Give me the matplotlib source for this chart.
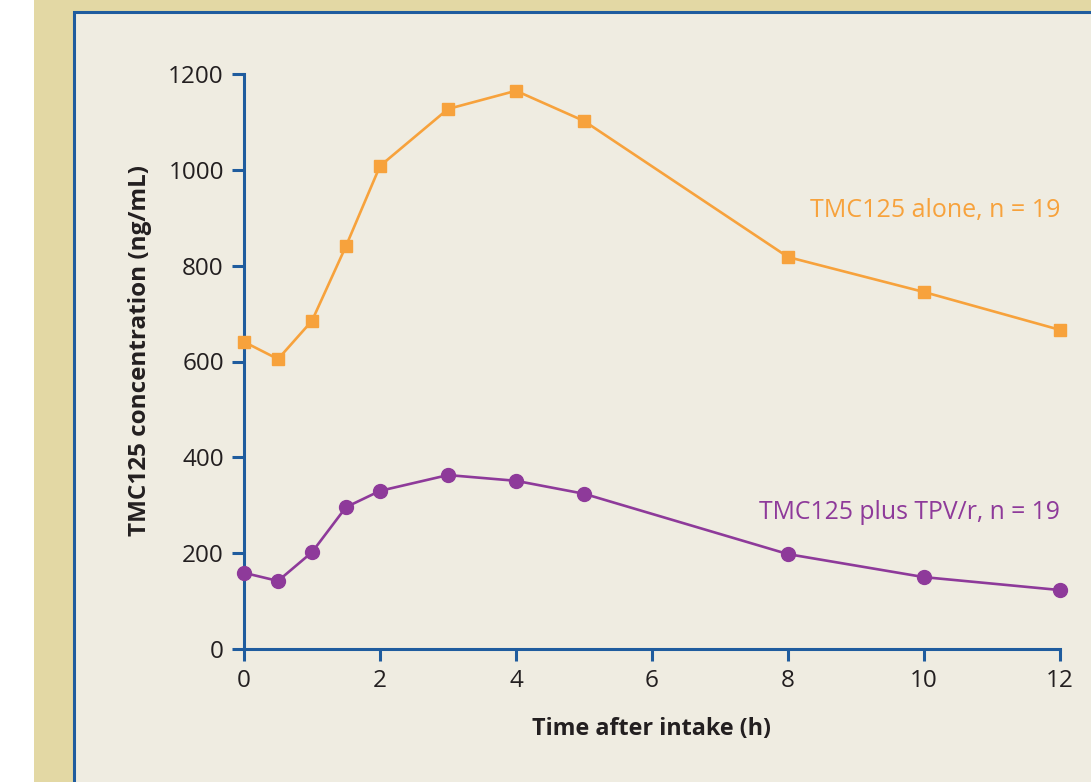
import matplotlib
matplotlib.use("Agg")
import matplotlib.pyplot as plt
from matplotlib.patches import Rectangle

# Data
hours = [0, 0.5, 1, 1.5, 2, 3, 4, 5, 8, 10, 12]
tmc_alone = [641, 605, 685, 841, 1008, 1127, 1165, 1102, 818, 745, 666]
tmc_plus_tpv = [159, 142, 202, 296, 330, 363, 351, 324, 198, 150, 123]

x_ticks = [0, 2, 4, 6, 8, 10, 12]
y_ticks = [0, 200, 400, 600, 800, 1000, 1200]

blue = "#1f5c9e"
orange = "#f7a23c"
purple = "#8e3a9a"
text_col = "#231f20"

plt.rcParams['font.family'] = ['Open Sans', 'DejaVu Sans']

fig = plt.figure(figsize=(10.91, 7.82), dpi=100)
fig.patch.set_facecolor("white")

# tan side strip and cream panel with blue frame (kept behind the axes)
fig.patches.append(Rectangle((34 / 1091, 0), 1, 1, transform=fig.transFigure,
                             facecolor="#e3d8a4", edgecolor="none", zorder=-2))
fig.patches.append(Rectangle((73.5 / 1091, -0.05), 1, 1 - 11.5 / 782 + 0.05,
                             transform=fig.transFigure, facecolor="#efece1",
                             edgecolor=blue, linewidth=2.2, zorder=-1))

ax = fig.add_axes([244 / 1091, 1 - 649 / 782, 816 / 1091, 575 / 782])
ax.set_facecolor("none")

ax.plot(hours, tmc_alone, color=orange, lw=1.9, marker="s", ms=8.5,
        clip_on=False, zorder=3)
ax.plot(hours, tmc_plus_tpv, color=purple, lw=1.9, marker="o", ms=10,
        clip_on=False, zorder=3)

ax.set_xlim(0, 12)
ax.set_ylim(0, 1200)
ax.set_xticks(x_ticks)
ax.set_yticks(y_ticks)

for s in ["top", "right"]:
    ax.spines[s].set_visible(False)
for s in ["left", "bottom"]:
    ax.spines[s].set_color(blue)
    ax.spines[s].set_linewidth(2.2)
ax.tick_params(colors=blue, width=2.2, length=8.5, labelcolor=text_col,
               labelsize=17.5, pad=6)

ax.set_xlabel("Time after intake (h)", fontsize=16.8, fontweight="bold",
              color=text_col, labelpad=17)
ax.set_ylabel("TMC125 concentration (ng/mL)", fontsize=17.5, fontweight="bold",
              color=text_col)
ax.yaxis.set_label_coords(-0.113, 0.52)

ax.text(12, 915, "TMC125 alone, n = 19", color=orange, fontsize=18,
        ha="right", va="center")
ax.text(12, 285, "TMC125 plus TPV/r, n = 19", color=purple, fontsize=17.8,
        ha="right", va="center")

fig.savefig("out.png", dpi=100)
